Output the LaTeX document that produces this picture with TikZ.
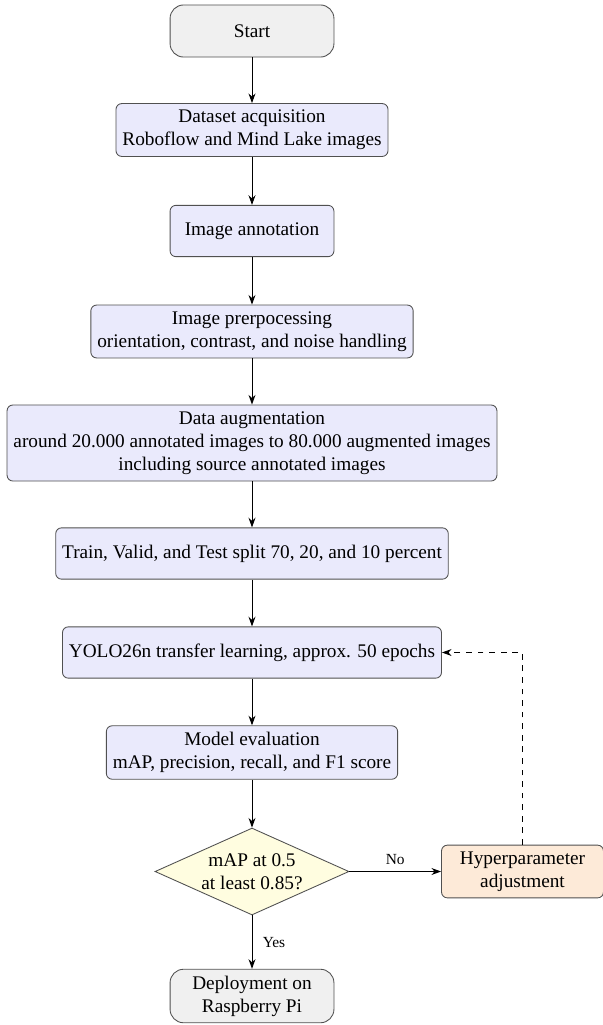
\documentclass[tikz,border=0pt]{standalone}
\usepackage{fontspec}
\setmainfont{Liberation Serif}
\usetikzlibrary{shapes.geometric,arrows.meta}
\definecolor{termfill}{RGB}{240,240,240}
\definecolor{procfill}{RGB}{234,234,252}
\definecolor{decfill}{RGB}{255,253,224}
\definecolor{adjfill}{RGB}{253,234,216}
\definecolor{bordergray}{RGB}{80,80,80}
\begin{document}
\begin{tikzpicture}[x=0.5187pt,y=-0.5187pt,
  base/.style={draw=bordergray, line width=0.45pt, align=center, font=\fontsize{10}{12}\selectfont, inner sep=3.33pt},
  term/.style={base, rounded corners=7pt, fill=termfill, minimum width=85pt, minimum height=27pt},
  proc/.style={base, rounded corners=3pt, fill=procfill, minimum width=85pt, minimum height=26.6pt},
  decision/.style={base, diamond, aspect=2.23, inner sep=0pt, fill=decfill, minimum width=100.6pt, minimum height=45.1pt},
  adjust/.style={base, rounded corners=3pt, fill=adjfill, minimum width=84pt},
  arr/.style={-{Stealth[length=5pt,width=3.6pt]}, black, line width=0.5pt},
  lbl/.style={font=\fontsize{8}{9.6}\selectfont}
]
\useasboundingbox (0,0) rectangle (602,1025);
\node[term] (start) at (252,31) {Start};
\node[proc] (data) at (252,130) {Dataset acquisition\\Roboflow and Mind Lake images};
\node[proc] (annot) at (252,231) {Image annotation};
\node[proc] (prep) at (252,331.5) {Image prerpocessing\\orientation, contrast, and noise handling};
\node[proc] (aug) at (252,443) {Data augmentation\\around 20.000 annotated images to 80.000 augmented images\\including source annotated images};
\node[proc] (split) at (252,553.5) {Train, Valid, and Test split 70, 20, and 10 percent};
\node[proc] (yolo) at (252,652.5) {YOLO26n transfer learning, approx. 50 epochs};
\node[proc] (eval) at (252,752.5) {Model evaluation\\mAP, precision, recall, and F1 score};
\node[decision] (dec) at (252,871.5) {mAP at 0.5\\at least 0.85?};
\node[adjust] (hyper) at (522.5,871.5) {Hyperparameter\\adjustment};
\node[term] (deploy) at (252,996) {Deployment on\\Raspberry Pi};

\draw[arr] (start) -- (data);
\draw[arr] (data) -- (annot);
\draw[arr] (annot) -- (prep);
\draw[arr] (prep) -- (aug);
\draw[arr] (aug) -- (split);
\draw[arr] (split) -- (yolo);
\draw[arr] (yolo) -- (eval);
\draw[arr] (eval) -- (dec);
\draw[arr] (dec.east) -- node[lbl, above] {No} (hyper.west);
\draw[arr] (dec.south) -- node[lbl, right, xshift=2pt] {Yes} (deploy.north);
\draw[arr, dashed] (hyper.north) |- (yolo.east);
\end{tikzpicture}
\end{document}
